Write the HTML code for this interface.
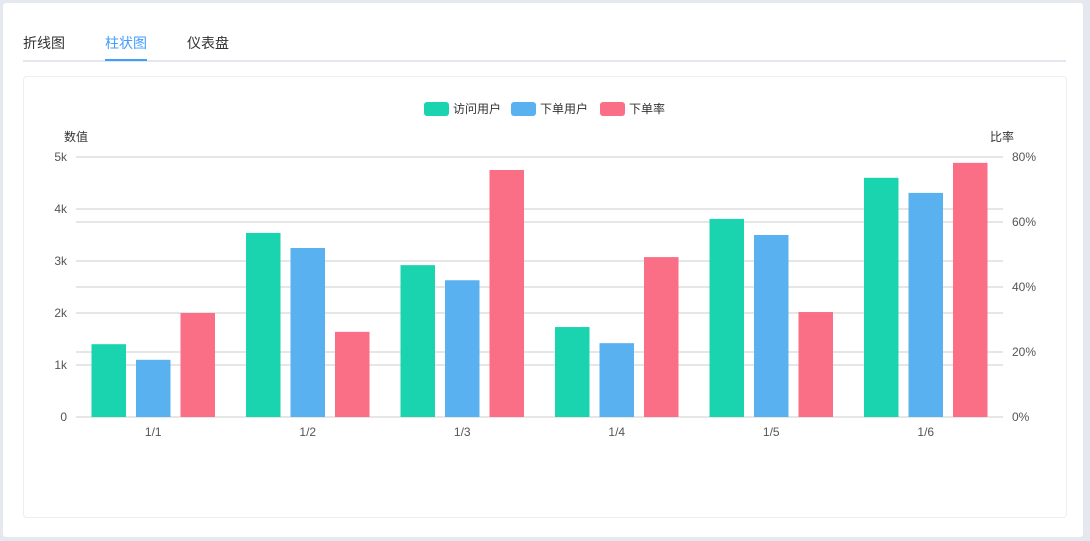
<!DOCTYPE html>
<html><head><meta charset="utf-8"><style>
html,body{margin:0;padding:0;width:1090px;height:541px;overflow:hidden;background:#e6e8ef;font-family:"Liberation Sans","Noto Sans CJK SC",sans-serif;}
#outer{position:absolute;left:3px;top:3px;width:1080px;height:534px;background:#fff;border-radius:3px;}
.tab{position:absolute;top:33px;font-size:14px;color:#303133;}
#tabline{position:absolute;left:23px;top:60px;width:1043px;height:2px;background:#e4e7ed;}
#active{position:absolute;left:105px;top:59px;width:42px;height:2px;background:#409eff;}
#card{position:absolute;left:23px;top:76px;width:1042px;height:440px;border:1px solid #ebeef5;border-radius:4px;background:#fff;}
svg{position:absolute;left:0;top:0;}
</style></head><body>
<div id="outer"></div>
<div class="tab" style="left:23px">折线图</div>
<div class="tab" style="left:105px;color:#409eff">柱状图</div>
<div class="tab" style="left:187px">仪表盘</div>
<div id="tabline"></div>
<div id="active"></div>
<div id="card"></div>
<svg id="chart" width="1090" height="541" font-family="Liberation Sans, Noto Sans CJK SC, sans-serif" font-size="12"></svg>
<script>
const categories=["1/1","1/2","1/3","1/4","1/5","1/6"];
const visits=[1400,3540,2920,1730,3810,4600];
const orders=[1100,3250,2630,1420,3500,4310];
const rate=[32,26.2,76,49.2,32.3,78.2];
const leftTicks=[0,1000,2000,3000,4000,5000];
const leftLabels=["0","1k","2k","3k","4k","5k"];
const rightTicks=[0,20,40,60,80];
const seriesNames=["访问用户","下单用户","下单率"];
const colors=["#19d4ae","#5ab1ef","#fa6e86"];
const NS="http://www.w3.org/2000/svg";
const svg=document.getElementById('chart');
const X0=76,X1=1003,Y0=417,Y1=157;
const band=(X1-X0)/categories.length;
const yL=v=>Y0-(v/5000)*(Y0-Y1);
const yR=v=>Y0-(v/80)*(Y0-Y1);
function mk(t,a,txt){const e=document.createElementNS(NS,t);for(const k in a)e.setAttribute(k,a[k]);if(txt!==undefined)e.textContent=txt;svg.appendChild(e);return e;}
leftTicks.forEach((v,i)=>{
 const g=mk('line',{x1:X0,x2:X1,y1:yL(v),y2:yL(v),stroke:'#ccc'});
 
 
 const t=mk('text',{x:67,y:yL(v)+4,'text-anchor':'end',fill:'#555'},leftLabels[i]);
 
 
});
rightTicks.forEach(v=>{
 const g=mk('line',{x1:X0,x2:X1,y1:yR(v),y2:yR(v),stroke:'#ccc'});
 
 
 const t=mk('text',{x:1012,y:yR(v)+4,fill:'#555'},v+'%');
 
 
});
let t=mk('text',{x:64,y:141,fill:'#333'},'数值');


t=mk('text',{x:990,y:141,fill:'#333'},'比率');


const bw=34.5,gap=10,off=(band-(3*bw+2*gap))/2;
categories.forEach((c,i)=>{
 const bx=X0+i*band+off;
 [[visits[i],yL],[orders[i],yL],[rate[i],yR]].forEach(([v,f],s)=>{
  const r=mk('rect',{x:bx+s*(bw+gap),y:f(v),width:bw,height:Y0-f(v),fill:colors[s]});
  
  
 });
 const l=mk('text',{x:X0+(i+0.5)*band,y:436,'text-anchor':'middle',fill:'#555'},c);
 
 
});
const lx=[424,511,600];
seriesNames.forEach((n,i)=>{
 const r=mk('rect',{x:lx[i],y:102,width:25,height:14,rx:3,fill:colors[i]});
 
 
 const tt=mk('text',{x:lx[i]+29,y:113,fill:'#333'},n);
 
 
});
</script>
</body></html>
